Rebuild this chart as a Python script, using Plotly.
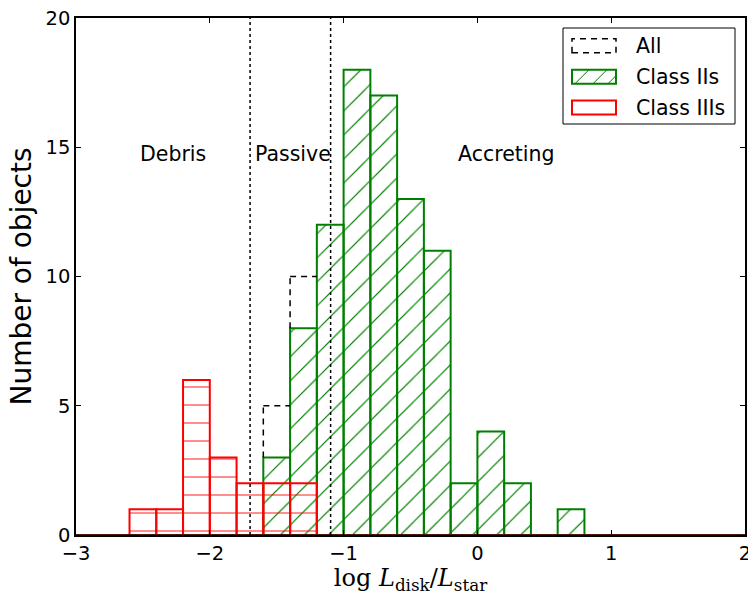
import plotly.graph_objects as go

# ---------------- data ----------------
bin_left = [-3.0, -2.8, -2.6, -2.4, -2.2, -2.0, -1.8, -1.6, -1.4, -1.2, -1.0, -0.8, -0.6,
            -0.4, -0.2, 0.0, 0.2, 0.4, 0.6, 0.8, 1.0, 1.2, 1.4, 1.6, 1.8]
bin_width = 0.2
class2_counts = [0, 0, 0, 0, 0, 0, 0, 3, 8, 12, 18, 17, 13, 11, 2, 4, 2, 0, 1, 0, 0, 0, 0, 0, 0]
class3_counts = [0, 0, 1, 1, 6, 3, 2, 2, 2, 0, 0, 0, 0, 0, 0, 0, 0, 0, 0, 0, 0, 0, 0, 0, 0]
all_counts = [a + b for a, b in zip(class2_counts, class3_counts)]

boundaries = [-1.699, -1.097]          # log(0.02), log(0.08)
region_names = ["Debris", "Passive", "Accreting"]
region_x = [-2.54, -1.68, -0.16]
region_y = 14.75

x_ticks = [-3, -2, -1, 0, 1, 2]
x_ticklabels = ["\u22123", "\u22122", "\u22121", "0", "1", "2"]
y_ticks = [0, 5, 10, 15, 20]
legend_labels = ["All", "Class IIs", "Class IIIs"]

# ---------------- figure ----------------
W, H = 748, 595
L, R, T, B = 76, 745, 18, 535
FONT = "DejaVu Sans"


def px_x(p):
    return (p - L) / (R - L)


def px_y(p):
    return (B - p) / (B - T)


fig = go.Figure()

# "All" outline (dashed) -- only the parts not covered by the solid bar edges
edges = bin_left + [bin_left[-1] + bin_width]
n = len(all_counts)
seg_x, seg_y = [], []
cover = [max(a, b) for a, b in zip(class2_counts, class3_counts)]
for i in range(n):
    if all_counts[i] > cover[i]:
        seg_x += [edges[i], edges[i + 1], None]
        seg_y += [all_counts[i], all_counts[i], None]
for j in range(n + 1):
    left = all_counts[j - 1] if j > 0 else 0
    right = all_counts[j] if j < n else 0
    cl = cover[j - 1] if j > 0 else 0
    cr = cover[j] if j < n else 0
    lo, hi = min(left, right), max(left, right)
    c = max(cl, cr)
    lo = max(lo, c)
    if hi > lo:
        seg_x += [edges[j], edges[j], None]
        seg_y += [lo, hi, None]
fig.add_trace(go.Scatter(
    x=seg_x, y=seg_y, mode="lines",
    line=dict(color="black", width=1.5, dash="6px,5px"),
    showlegend=False, hoverinfo="skip"))

# Class IIs
fig.add_trace(go.Bar(
    x=bin_left, y=class2_counts, width=bin_width, offset=0,
    marker=dict(color="rgba(0,0,0,0)",
                line=dict(color="#008000", width=2),
                pattern=dict(shape="/", size=17, solidity=0.07,
                             fgcolor="#008000", bgcolor="rgba(0,0,0,0)",
                             fillmode="replace")),
    showlegend=False, hoverinfo="skip"))

# Class IIIs
fig.add_trace(go.Bar(
    x=bin_left, y=class3_counts, width=bin_width, offset=0,
    marker=dict(color="rgba(0,0,0,0)",
                line=dict(color="#ff0000", width=2),
                pattern=dict(shape="-", size=18, solidity=0.07,
                             fgcolor="rgba(255,0,0,0.7)", bgcolor="rgba(0,0,0,0)",
                             fillmode="replace")),
    showlegend=False, hoverinfo="skip"))

# baseline where the zero-height bars overlap
fig.add_trace(go.Scatter(
    x=[edges[0], edges[-1]], y=[0, 0], mode="lines",
    line=dict(color="#4a1a0e", width=2), cliponaxis=False,
    showlegend=False, hoverinfo="skip"))

# boundaries
for bx in boundaries:
    fig.add_shape(type="line", xref="x", yref="y", x0=bx, x1=bx, y0=0, y1=20,
                  line=dict(color="black", width=1.5, dash="dot"))

# region labels
for name, rx in zip(region_names, region_x):
    fig.add_annotation(x=rx, y=region_y, xref="x", yref="y", text=name,
                       showarrow=False, xanchor="left", yanchor="middle",
                       font=dict(family=FONT, size=20.5, color="black"))

# ---------------- custom legend ----------------
fig.add_shape(type="rect", xref="paper", yref="paper",
              x0=px_x(563), x1=px_x(735), y0=px_y(124), y1=px_y(28),
              line=dict(color="black", width=1), fillcolor="white", layer="above")
patch_x0, patch_x1 = 572, 616
patch_cy = [45.8, 76.7, 107.5]
patch_h = 14
# All
fig.add_shape(type="rect", xref="paper", yref="paper",
              x0=px_x(patch_x0), x1=px_x(patch_x1),
              y0=px_y(patch_cy[0] + patch_h / 2), y1=px_y(patch_cy[0] - patch_h / 2),
              line=dict(color="black", width=1.5, dash="6px,5px"), layer="above")
# Class IIs
fig.add_shape(type="rect", xref="paper", yref="paper",
              x0=px_x(patch_x0), x1=px_x(patch_x1),
              y0=px_y(patch_cy[1] + patch_h / 2), y1=px_y(patch_cy[1] - patch_h / 2),
              line=dict(color="#008000", width=2), layer="above")
yb, yt = patch_cy[1] + patch_h / 2, patch_cy[1] - patch_h / 2
for (xa, ya, xb, yb2) in [(575, yb, 589, yt), (593, yb, 607, yt), (608, yb, 616, yb - 8)]:
    fig.add_shape(type="line", xref="paper", yref="paper",
                  x0=px_x(xa), y0=px_y(ya), x1=px_x(xb), y1=px_y(yb2),
                  line=dict(color="#008000", width=1), layer="above")
# Class IIIs
fig.add_shape(type="rect", xref="paper", yref="paper",
              x0=px_x(patch_x0), x1=px_x(patch_x1),
              y0=px_y(patch_cy[2] + patch_h / 2), y1=px_y(patch_cy[2] - patch_h / 2),
              line=dict(color="#ff0000", width=2), layer="above")
for lab, cy in zip(legend_labels, patch_cy):
    fig.add_annotation(x=px_x(634), y=px_y(cy), xref="paper", yref="paper", text=lab,
                       showarrow=False, xanchor="left", yanchor="middle",
                       font=dict(family=FONT, size=20.5, color="black"))

axis_common = dict(showgrid=False, zeroline=False, showline=True, linecolor="black",
                   linewidth=1.5, mirror="allticks", ticks="inside", ticklen=5,
                   tickwidth=1, tickcolor="black", ticklabeloverflow="allow",
                   automargin=False,
                   tickfont=dict(family=FONT, size=19.5, color="black"))

fig.update_layout(
    width=W, height=H,
    margin=dict(l=L, r=W - R, t=T, b=H - B, pad=0, autoexpand=False),
    paper_bgcolor="white", plot_bgcolor="white",
    barmode="overlay", showlegend=False,
    xaxis=dict(range=[-3, 2], tickvals=x_ticks, ticktext=x_ticklabels,
               title=dict(text="log <i>L</i><sub>disk</sub>/<i>L</i><sub>star</sub>",
                          font=dict(family="DejaVu Serif", size=24, color="black"),
                          standoff=6),
               **axis_common),
    yaxis=dict(range=[0, 20], tickvals=y_ticks,
               title=dict(text="Number of objects",
                          font=dict(family=FONT, size=28, color="black"),
                          standoff=6),
               **axis_common),
)

fig.write_html("out.html")
